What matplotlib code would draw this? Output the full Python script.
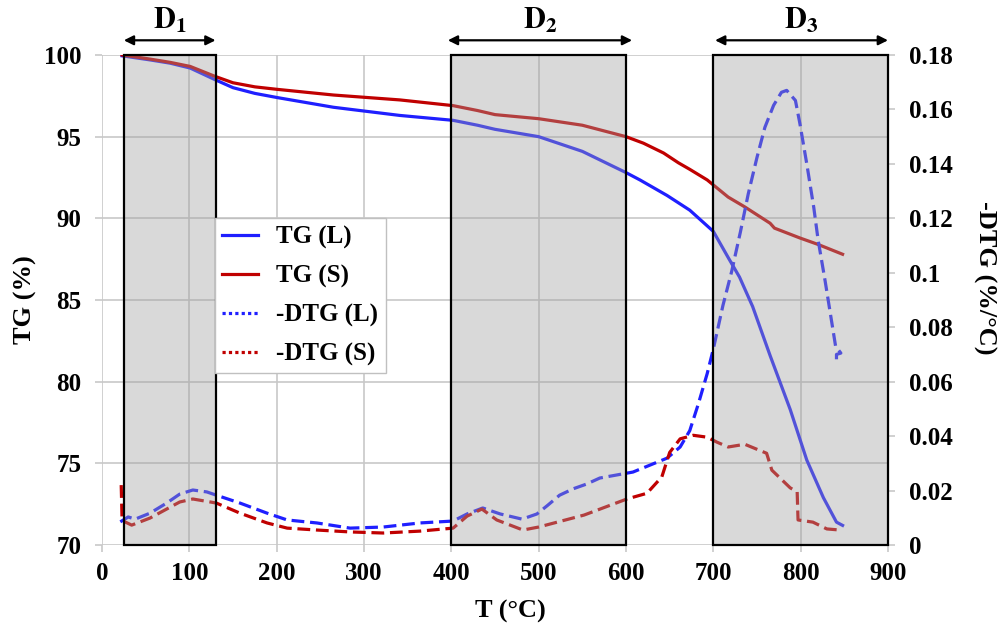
import matplotlib
matplotlib.use("Agg")
import matplotlib.pyplot as plt
from matplotlib.lines import Line2D
from matplotlib.patches import Rectangle
from matplotlib.ticker import FuncFormatter

plt.rcParams["font.family"] = "Liberation Serif"
plt.rcParams["font.weight"] = "bold"
plt.rcParams["axes.labelweight"] = "bold"
plt.rcParams["mathtext.fontset"] = "stix"

# TG (%) vs temperature (°C)
t_tg_l = [23, 55, 78, 101, 129, 150, 175, 200, 265, 341, 402, 430, 450, 500,
          550, 600, 616, 647, 673, 700, 717, 730, 745, 765, 788, 807, 826,
          841, 848]
tg_l = [99.95, 99.7, 99.5, 99.2, 98.5, 98.0, 97.65, 97.4, 96.8, 96.3, 96.0,
        95.7, 95.45, 95.0, 94.1, 92.8, 92.35, 91.4, 90.5, 89.2, 87.6, 86.4,
        84.6, 81.6, 78.3, 75.2, 72.9, 71.4, 71.2]

t_tg_s = [23, 55, 78, 101, 129, 150, 175, 200, 265, 341, 402, 430, 450, 500,
          550, 600, 620, 643, 660, 673, 693, 717, 736, 765, 770, 799, 820, 848]
tg_s = [100.0, 99.75, 99.55, 99.3, 98.7, 98.3, 98.05, 97.9, 97.55, 97.25,
        96.9, 96.6, 96.35, 96.1, 95.7, 95.0, 94.6, 94.0, 93.4, 93.0, 92.35,
        91.3, 90.7, 89.7, 89.4, 88.8, 88.4, 87.8]

# -DTG (%/°C)
t_dtg_l = [21, 30, 38, 55, 74, 89, 104, 120, 131, 158, 189, 212, 246, 284,
           322, 364, 402, 418, 436, 456, 481, 498, 510, 524, 540, 555, 570,
           608, 647, 662, 673, 683, 693, 700, 711, 721, 731, 740, 750,
           759, 769, 778, 784, 794, 799, 807, 815, 820, 828, 834, 840, 846,
           841, 841]
dtg_l = [0.0085, 0.0103, 0.0095, 0.0117, 0.0154, 0.0187, 0.0202, 0.0195,
         0.0183, 0.0154, 0.0117, 0.0092, 0.0081, 0.0062, 0.0066, 0.0081,
         0.0088, 0.0114, 0.0136, 0.0114, 0.0095, 0.0114, 0.0145, 0.0183,
         0.0207, 0.0224, 0.0246, 0.0268, 0.0319, 0.0360, 0.0420, 0.0520,
         0.0630, 0.0720, 0.0880, 0.1005, 0.1150, 0.1290, 0.1424,
         0.1534, 0.1615, 0.1663, 0.1670, 0.1633, 0.1550, 0.1400, 0.1240,
         0.1120, 0.0970, 0.0850, 0.0730, 0.0705, 0.0700, 0.0680]

t_dtg_s = [22, 23, 34, 55, 74, 89, 104, 124, 131, 158, 189, 212, 246, 284,
           322, 364, 402, 418, 435, 452, 482, 500, 552, 601, 624, 641, 650,
           662, 677, 693, 704, 717, 736, 761, 767, 788, 796, 797, 814, 830, 845]
dtg_s = [0.022, 0.009, 0.0073, 0.0099, 0.0132, 0.0158, 0.0169, 0.0158,
         0.0154, 0.0117, 0.0081, 0.0062, 0.0055, 0.0048, 0.0044, 0.0051,
         0.0062, 0.0106, 0.0132, 0.0092, 0.0055, 0.0066, 0.0110, 0.0169,
         0.0190, 0.0250, 0.0340, 0.0390, 0.0403, 0.0396, 0.0378, 0.0360,
         0.0370, 0.0337, 0.0275, 0.0210, 0.0195, 0.0092, 0.0084, 0.0059,
         0.0055]

# decomposition stages
zones = [(25, 130), (400, 600), (700, 900)]
zone_arrows = [(25, 130), (396, 607), (702, 900)]
zone_names = [r"$\mathbf{D}_{\mathbf{1}}$", r"$\mathbf{D}_{\mathbf{2}}$",
              r"$\mathbf{D}_{\mathbf{3}}$"]

BLUE = "#1f1fff"
RED = "#c00000"
GRID = "#c8c8c8"
LW = 2.3
DASH = (4, 1.8)

fig = plt.figure(figsize=(10.03, 6.29), dpi=100)
ax = fig.add_axes([102 / 1003, 84 / 629, 786 / 1003, 490 / 629])
ax2 = ax.twinx()

ax.plot(t_tg_l, tg_l, color=BLUE, lw=LW, zorder=2)
ax.plot(t_tg_s, tg_s, color=RED, lw=LW, zorder=2)
ax2.plot(t_dtg_l, dtg_l, color=BLUE, lw=LW, dashes=DASH, zorder=2)
ax2.plot(t_dtg_s, dtg_s, color=RED, lw=LW, dashes=DASH, zorder=2)

ax.set_xlim(0, 900)
ax.set_ylim(70, 100)
ax2.set_ylim(0, 0.18)
ax.set_xticks(range(0, 901, 100))
ax.set_yticks(range(70, 101, 5))
ax2.set_yticks([i * 0.02 for i in range(10)])
ax2.yaxis.set_major_formatter(FuncFormatter(lambda v, p: f"{round(v, 2):g}"))

ax.grid(True, color=GRID, lw=1.2)
ax.set_axisbelow(True)
for a in (ax, ax2):
    for s in a.spines.values():
        s.set_visible(False)
ax.tick_params(axis="both", length=5, width=1.2, color=GRID, labelsize=18)
ax.tick_params(axis="y", pad=10)
ax.tick_params(axis="x", pad=7)
ax2.tick_params(axis="y", length=5, width=1.2, color=GRID, labelsize=18, pad=10)

# shaded stage boxes sit over the curves
for x0, x1 in zones:
    ax2.add_patch(Rectangle((x0, 70), x1 - x0, 30, transform=ax.transData,
                            facecolor="#a0a0a0", alpha=0.4, edgecolor="none",
                            zorder=3, clip_on=False))
    ax2.add_patch(Rectangle((x0, 70), x1 - x0, 30, transform=ax.transData,
                            facecolor="none", edgecolor="black", lw=1.6,
                            zorder=4, clip_on=False))

for (a0, a1), name in zip(zone_arrows, zone_names):
    ax.annotate("", xy=(a0, 100.9), xytext=(a1, 100.9),
                arrowprops=dict(arrowstyle="<|-|>", color="black", lw=1.6,
                                mutation_scale=14, shrinkA=0, shrinkB=0),
                annotation_clip=False)
    ax.text((a0 + a1) / 2, 102.1, name, ha="center", va="center", fontsize=22)

ax.set_xlabel("T (°C)", fontsize=19, va="center")
ax.xaxis.set_label_coords(0.519, -0.135)
ax.set_ylabel("TG (%)", fontsize=19, va="center", ha="center")
ax.yaxis.set_label_coords(-0.098, 0.5)
ax2.set_ylabel("-DTG (%/°C)", fontsize=19, rotation=270, va="center",
               ha="center")
ax2.yaxis.set_label_coords(1.123, 0.545)

handles = [
    Line2D([], [], color=BLUE, lw=LW),
    Line2D([], [], color=RED, lw=LW),
    Line2D([], [], color=BLUE, lw=LW, ls=(0, (1, 1))),
    Line2D([], [], color=RED, lw=LW, ls=(0, (1, 1))),
]
labels = ["TG (L)", "TG (S)", "-DTG (L)", "-DTG (S)"]
leg = ax2.legend(handles, labels, loc="upper left",
                 bbox_to_anchor=(215 / 1003, 1 - 218 / 629),
                 bbox_transform=fig.transFigure, borderaxespad=0,
                 fontsize=18, frameon=True, fancybox=False, framealpha=1,
                 edgecolor="#c0c0c0", handlelength=1.4, handletextpad=0.75,
                 labelspacing=0.62, borderpad=0.3)
leg.get_frame().set_linewidth(1.0)
leg.set_zorder(10)

fig.savefig("out.png", dpi=100)
